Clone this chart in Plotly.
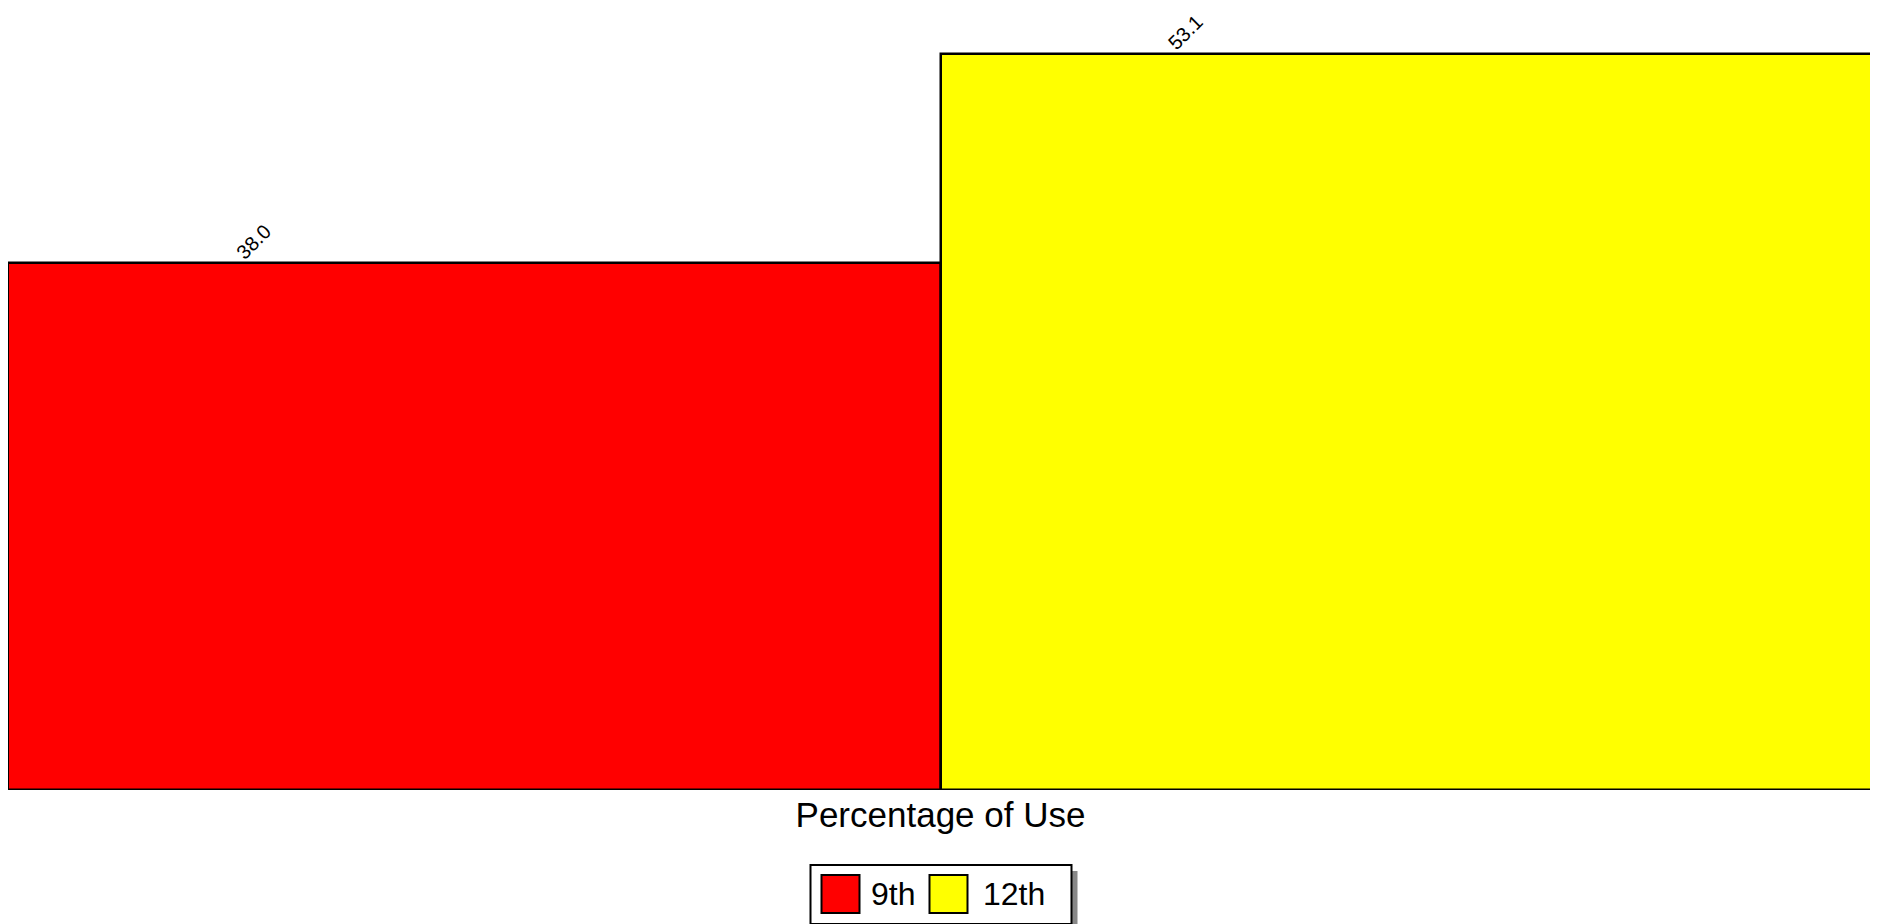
import plotly.graph_objects as go

grades = ["9th", "12th"]
pct_use = [38.0, 53.1]
bar_colors = ["#ff0000", "#ffff00"]

FONT = "Liberation Sans, Arial, sans-serif"
xpos = list(range(len(grades)))

fig = go.Figure()
fig.add_trace(go.Bar(
    x=xpos, y=pct_use, width=1,
    marker=dict(color=bar_colors, line=dict(color="black", width=2.5)),
    showlegend=False, hoverinfo="skip",
))

# rotated value labels, sitting about a quarter of the way into each bar
for i, v in enumerate(pct_use):
    fig.add_annotation(x=i - 0.237, y=v, text=f"{v:.1f}", showarrow=False,
                       textangle=-45, yanchor="bottom", yshift=-3,
                       font=dict(size=20, color="black", family=FONT))

# hand-drawn legend under the axis title (big square swatches + drop shadow)
def pix_rect(x0, x1, y0, y1, **kw):
    fig.add_shape(type="rect", xref="paper", yref="paper",
                  xsizemode="pixel", ysizemode="pixel", xanchor=0.5, yanchor=0,
                  x0=x0, x1=x1, y0=y0, y1=y1, **kw)

pix_rect(-124, 137, -81, -140, fillcolor="#888888", line=dict(width=0))
pix_rect(-130, 131, -75, -134, fillcolor="white", line=dict(color="black", width=2))
swatch_x = [-119, -11]
text_x = [-72, 40]
for g, c, sx, tx in zip(grades, bar_colors, swatch_x, text_x):
    pix_rect(sx, sx + 38, -85, -123, fillcolor=c, line=dict(color="black", width=2))
    fig.add_annotation(xref="paper", yref="paper", x=0.5, y=0, xshift=tx, yshift=-104,
                       xanchor="left", yanchor="middle", text=g, showarrow=False,
                       font=dict(size=32, color="black", family=FONT))

# page body adds an 8px margin, so the figure is shrunk by that much
fig.update_layout(
    width=1870, height=916,
    margin=dict(l=0, r=5, t=0, b=134),
    plot_bgcolor="white", paper_bgcolor="white",
    bargap=0,
    xaxis=dict(range=[-0.5, 1.5], showticklabels=False, showgrid=False,
               zeroline=False, ticks="",
               title=dict(text="Percentage of Use", standoff=12,
                          font=dict(size=35, color="black", family=FONT))),
    yaxis=dict(range=[0, 56.4], showticklabels=False, showgrid=False,
               zeroline=False, ticks=""),
    showlegend=False,
)

fig.write_html("out.html")
